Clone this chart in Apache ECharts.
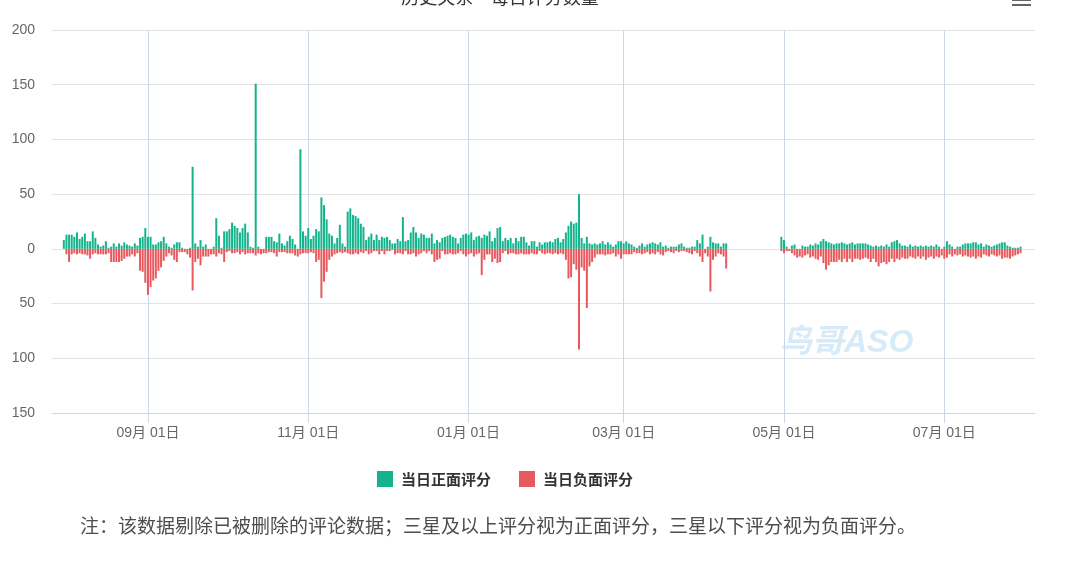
<!DOCTYPE html>
<html>
<head>
<meta charset="utf-8">
<title>每日评分数量</title>
<script src="https://cdn.jsdelivr.net/npm/echarts@6/dist/echarts.min.js"></script>
<style>
  html, body { margin: 0; padding: 0; background: #fff; }
  #chart { width: 1080px; height: 563px; }
</style>
</head>
<body>
<div id="chart"></div>
<script>
const axisStart = '2022-07-27';
const axisDays = 374;
const dataStart = '2022-07-31';
const tickDates = ['2022-09-01', '2022-11-01', '2023-01-01', '2023-03-01', '2023-05-01', '2023-07-01'];
const seriesNames = ['当日正面评分', '当日负面评分'];

// one value per day, 2022-07-31 .. 2023-07-30, one line per month
const positiveCounts = [
    8, 13, 13, 13, 11, 15, 9, 11, 14, 7, 7, 16, 10, 4, 2, 3, 7, 1, 2, 5, 2, 5, 3, 6, 4, 3, 2, 5, 3, 10, 11, 19,
    11, 11, 4, 4, 6, 7, 11, 5, 2, 1, 4, 6, 6, 1, 0, 0, 1, 75, 5, 2, 8, 2, 4, 0, 0, 2, 28, 12, 1, 16,
    16, 18, 24, 21, 19, 15, 19, 23, 15, 2, 1, 151, 2, 0, 0, 11, 11, 11, 7, 6, 14, 5, 3, 7, 12, 9, 4, 0, 91, 16, 12,
    19, 9, 12, 18, 16, 47, 40, 27, 14, 12, 5, 10, 22, 5, 2, 34, 37, 31, 30, 28, 23, 20, 8, 11, 14, 8, 13, 8, 11, 10,
    11, 8, 5, 5, 9, 7, 29, 7, 8, 15, 20, 15, 10, 14, 13, 10, 10, 14, 5, 8, 6, 10, 11, 12, 13, 11, 10, 5, 10, 13, 14,
    13, 15, 8, 11, 12, 10, 13, 12, 16, 7, 10, 19, 20, 7, 10, 8, 10, 5, 10, 7, 11, 11, 6, 3, 7, 7, 2, 6, 4, 6, 6,
    7, 6, 9, 10, 6, 9, 15, 21, 25, 23, 24, 50, 10, 5, 11, 5, 4, 5, 4, 5, 7, 4, 6, 4, 2, 4, 7, 7,
    5, 7, 5, 4, 2, 1, 3, 5, 2, 4, 5, 6, 5, 4, 6, 2, 3, 1, 2, 2, 2, 4, 5, 2, 1, 1, 2, 2, 8, 5, 13,
    0, 2, 11, 6, 5, 5, 2, 5, 5, null, null, null, null, null, null, null, null, null, null, null, null, null, null, null, null, null, null, null, null, 11,
    8, 2, 0, 3, 4, 0, 0, 3, 2, 2, 4, 3, 5, 4, 7, 9, 7, 6, 5, 4, 5, 5, 6, 5, 4, 5, 6, 4, 5, 5, 5,
    5, 4, 3, 2, 3, 2, 3, 2, 4, 2, 6, 7, 8, 5, 3, 3, 2, 4, 2, 3, 2, 3, 2, 3, 2, 3, 2, 4, 2, 0,
    2, 7, 4, 2, 0, 2, 2, 4, 5, 5, 5, 6, 6, 4, 5, 2, 4, 3, 2, 3, 4, 5, 6, 6, 3, 2, 1, 1, 1, 2
];

const negativeCounts = [
    0, 5, 12, 5, 4, 5, 4, 5, 5, 6, 9, 5, 4, 5, 5, 5, 5, 4, 12, 12, 12, 12, 11, 9, 7, 7, 5, 7, 4, 20, 21, 31,
    42, 35, 29, 27, 20, 17, 11, 7, 4, 6, 10, 12, 3, 3, 3, 5, 8, 38, 12, 9, 15, 7, 7, 7, 5, 5, 7, 4, 5, 12,
    3, 2, 4, 4, 3, 5, 3, 5, 4, 4, 4, 6, 4, 5, 4, 4, 3, 3, 4, 7, 3, 3, 3, 4, 4, 4, 6, 7, 5, 4, 4,
    4, 3, 4, 12, 10, 45, 30, 21, 10, 7, 5, 4, 3, 4, 3, 4, 5, 5, 4, 5, 3, 4, 2, 5, 4, 2, 2, 5, 2, 5,
    2, 2, 1, 5, 4, 4, 5, 2, 5, 5, 4, 7, 5, 4, 2, 4, 2, 5, 12, 10, 9, 2, 5, 5, 4, 5, 5, 4, 2, 5, 7,
    5, 4, 7, 5, 4, 24, 10, 5, 5, 12, 9, 13, 12, 4, 2, 5, 4, 4, 5, 5, 4, 5, 5, 5, 4, 5, 5, 2, 4, 5, 4,
    4, 5, 4, 5, 4, 5, 10, 27, 26, 14, 19, 92, 17, 20, 54, 16, 12, 8, 5, 5, 5, 6, 5, 5, 4, 7, 5, 9,
    5, 5, 5, 5, 3, 4, 4, 5, 4, 3, 5, 4, 5, 3, 5, 6, 3, 2, 3, 4, 2, 3, 2, 2, 3, 4, 5, 2, 4, 7, 12,
    4, 7, 39, 10, 7, 4, 5, 7, 18, null, null, null, null, null, null, null, null, null, null, null, null, null, null, null, null, null, null, null, null, 2,
    4, 2, 2, 4, 6, 8, 7, 8, 6, 5, 8, 7, 9, 10, 7, 13, 19, 15, 12, 12, 12, 10, 12, 9, 12, 9, 12, 9, 9, 10, 9,
    8, 9, 12, 9, 12, 16, 13, 12, 14, 12, 9, 12, 9, 10, 8, 9, 9, 7, 8, 9, 7, 9, 7, 10, 8, 7, 9, 7, 8, 6,
    9, 8, 5, 7, 5, 6, 5, 7, 6, 7, 8, 7, 9, 7, 8, 5, 6, 7, 5, 6, 7, 6, 9, 8, 8, 9, 7, 6, 5, 4
];

const titleText = '历史关系 – 每日评分数量';
const note = '注：该数据剔除已被删除的评论数据；三星及以上评分视为正面评分，三星以下评分视为负面评分。';
const cjk = "'Noto Sans CJK SC', sans-serif";
const latin = "'Liberation Sans', 'Noto Sans CJK SC', sans-serif";

function pad2(n) {
    return n < 10 ? '0' + n : '' + n;
}

const [sy, sm, sd] = axisStart.split('-').map(Number);
const categories = [];
for (let i = 0; i < axisDays; i++) {
    const d = new Date(Date.UTC(sy, sm - 1, sd + i));
    categories.push(d.getUTCFullYear() + '-' + pad2(d.getUTCMonth() + 1) + '-' + pad2(d.getUTCDate()));
}

const lead = categories.indexOf(dataStart);
function onAxis(values) {
    return categories.map((c, i) => {
        const k = i - lead;
        return k >= 0 && k < values.length ? values[k] : null;
    });
}

const isTick = (index, value) => tickDates.indexOf(value) >= 0;
const gridColor = '#ccd6eb';

const chart = echarts.init(document.getElementById('chart'));
chart.setOption({
    animation: false,
    grid: { left: 52, right: 45, top: 30, bottom: 150, outerBoundsMode: 'none' },
    legend: {
        data: seriesNames,
        top: 466,
        left: 372,
        icon: 'rect',
        itemWidth: 16,
        itemHeight: 16,
        itemGap: 28,
        textStyle: { fontSize: 15, fontWeight: 'bold', color: '#333', fontFamily: cjk, padding: [0, 0, 0, 3] }
    },
    xAxis: {
        type: 'category',
        data: categories,
        boundaryGap: true,
        axisLine: { onZero: false, lineStyle: { color: gridColor } },
        axisTick: { show: true, interval: isTick, alignWithLabel: true, length: 10, lineStyle: { color: gridColor } },
        axisLabel: {
            interval: isTick,
            color: '#666',
            fontSize: 14,
            margin: 13,
            fontFamily: latin,
            formatter: v => v.slice(5, 7) + '月 ' + v.slice(8) + '日'
        },
        splitLine: { show: true, interval: isTick, alignWithLabel: true, lineStyle: { color: gridColor } }
    },
    yAxis: {
        type: 'value',
        min: -150,
        max: 200,
        interval: 50,
        axisLine: { show: false },
        axisTick: { show: false },
        axisLabel: { color: '#666', fontSize: 14, margin: 17, fontFamily: latin, formatter: v => Math.abs(v) },
        splitLine: { lineStyle: { color: '#e3e3e3' } }
    },
    series: [{
        name: seriesNames[0],
        type: 'bar',
        stack: 'day',
        barWidth: '76%',
        itemStyle: { color: '#13b48c' },
        data: onAxis(positiveCounts)
    }, {
        name: seriesNames[1],
        type: 'bar',
        stack: 'day',
        barWidth: '76%',
        itemStyle: { color: '#e8585c' },
        data: onAxis(negativeCounts).map(v => v == null ? null : -v)
    }],
    graphic: [{
        type: 'text',
        x: 500,
        y: 6,
        style: { text: titleText, fontSize: 18, fill: '#333', fontFamily: cjk, align: 'center', verticalAlign: 'bottom' }
    }, {
        type: 'text',
        left: 780,
        top: 327,
        z: -1,
        style: { text: '鸟哥ASO', fontSize: 32, fontWeight: 'bold', fontStyle: 'italic', fill: '#d6ebf7', fontFamily: latin }
    }, {
        type: 'text',
        left: 80,
        top: 516,
        style: { text: note, fontSize: 19, fill: '#4d4d4d', fontFamily: cjk }
    }, {
        type: 'rect',
        shape: { x: 1012, y: -6, width: 19, height: 2 },
        style: { fill: '#666' }
    }, {
        type: 'rect',
        shape: { x: 1012, y: -1, width: 19, height: 2 },
        style: { fill: '#666' }
    }, {
        type: 'rect',
        shape: { x: 1012, y: 4, width: 19, height: 2 },
        style: { fill: '#666' }
    }]
});
</script>
</body>
</html>
